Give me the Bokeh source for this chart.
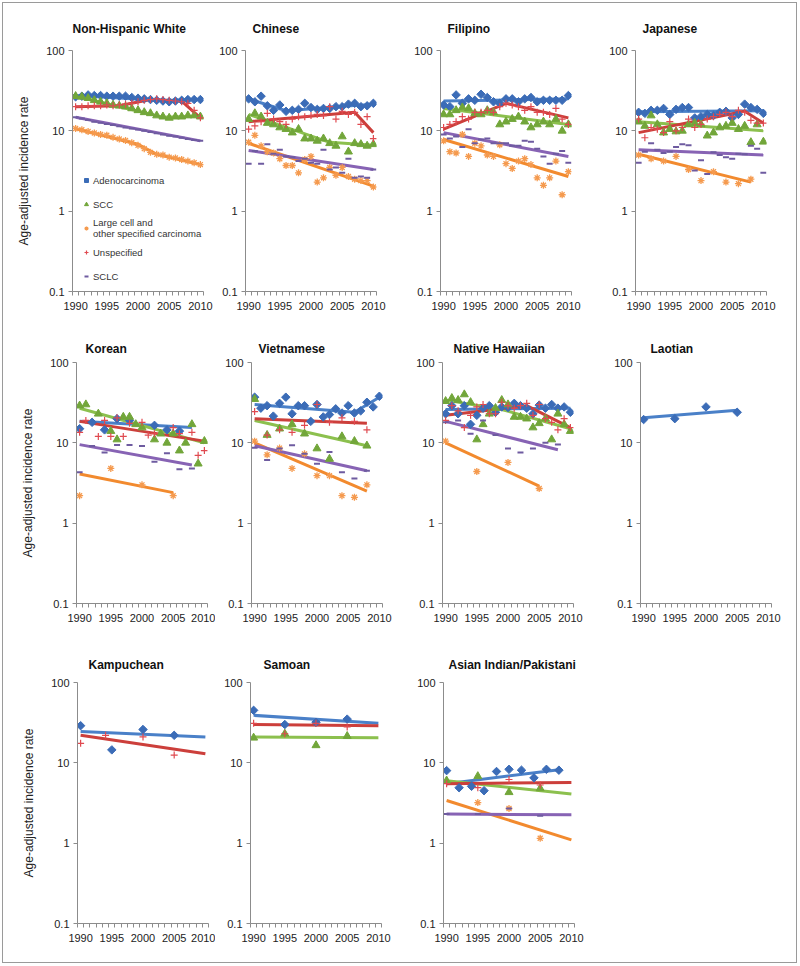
import math
from bokeh.plotting import figure
from bokeh.layouts import column, row
from bokeh.models import Legend, LegendItem, FixedTicker, CustomJSTickFormatter
from bokeh.embed import file_html
from bokeh.resources import INLINE

# ---------------- data ----------------
YEARS = [1990, 1991, 1992, 1993, 1994, 1995, 1996, 1997, 1998, 1999, 2000,
         2001, 2002, 2003, 2004, 2005, 2006, 2007, 2008, 2009, 2010]
EVEN = [1990, 1992, 1994, 1996, 1998, 2000, 2002, 2004, 2006, 2008]
FIVE = [1990, 1995, 2000, 2005]
TICK_YEARS = [1990, 1995, 2000, 2005, 2010]
Y_TICKS = [0.1, 1, 10, 100]

SERIES_LABELS = ["Adenocarcinoma", "SCC", "Large cell and\nother specified carcinoma",
                 "Unspecified", "SCLC"]

# Non-Hispanic White
nhw_adeno = [26.5, 27, 28, 27.5, 27.5, 27, 27, 27, 27, 26, 25.5, 25, 24.5, 24, 23.5, 23, 23.5, 24, 24.5, 24.5, 24.5]
nhw_scc = [27, 26.5, 25.5, 24, 23, 22, 21, 20.5, 20, 19, 18, 17, 16.5, 15.5, 15, 14.5, 15, 15, 15.5, 15.5, 15]
nhw_large = [10.7, 10.3, 9.8, 9.4, 9.0, 8.8, 8.3, 7.9, 7.6, 7.1, 6.6, 6.0, 5.4, 5.1, 5.0, 4.7, 4.6, 4.4, 4.2, 4.0, 3.8]
nhw_unspec = [20, 20, 20.5, 20.5, 20.5, 21, 20.5, 21, 21.5, 22, 23, 24, 24.5, 25, 24.5, 24, 23.5, 23, 22, 18, 14.5]
nhw_sclc = [14.8, 14.2, 13.6, 13.0, 12.6, 12.2, 11.8, 11.4, 11.0, 10.7, 10.4, 10.0, 9.7, 9.3, 9.0, 8.7, 8.5, 8.2, 7.9, 7.7, 7.5]
nhw_adeno_trend = ([1990, 2004, 2010], [27.5, 23.8, 24.5])
nhw_scc_trend = ([1990, 2004, 2010], [27, 14.8, 15.3])
nhw_large_trend = ([1990, 2000, 2003, 2010], [10.6, 6.8, 5.1, 3.8])
nhw_unspec_trend = ([1990, 1997, 2002, 2007, 2010], [20, 20.5, 24.5, 23.5, 14.5])
nhw_sclc_trend = ([1990, 2010], [14.8, 7.5])

# Chinese
chn_adeno = [25, 23, 27, 20.5, 18, 21, 17.5, 18, 18.5, 22, 19.5, 18.5, 19, 19, 20, 20, 21.5, 22, 20, 20.5, 22]
chn_scc = [14, 16.5, 15, 12.5, 12, 11, 10.5, 9.5, 10.5, 8, 8, 7.5, 8, 7, 6.5, 8.5, 5.5, 7, 6.8, 6.5, 6.8]
chn_large = [7.2, 8.8, 6.5, 5.5, 5.3, 4.5, 3.7, 3.7, 3.0, 4.4, 4.8, 2.3, 2.6, 3.5, 2.8, 3.5, 2.7, 2.5, 2.4, 2.4, 2.0]
chn_unspec = [10.5, 11.5, 13, 16.5, 14, 13, 12, 14, 15, 15, 15.5, 16, 15.5, 20, 14, 17.5, 16, 17, 12, 15, 8]
chn_sclc = [3.9, 5.6, 3.9, 6.8, 5.2, 5.8, 4.8, 4.7, 4.2, 4.5, 4.0, 3.9, 5.8, 3.3, 3.5, 3.0, 4.5, 2.6, 2.7, 2.6, 3.3]
chn_adeno_trend = ([1990, 1996, 2010], [25, 17.8, 21.5])
chn_scc_trend = ([1990, 2003, 2010], [16, 7.2, 6.6])
chn_large_trend = ([1990, 2010], [7, 2.05])
chn_unspec_trend = ([1990, 2007, 2010], [13, 17, 9.5])
chn_sclc_trend = ([1990, 2010], [5.7, 3.3])

# Filipino
fil_adeno = [21, 20, 28, 22, 25, 24, 28.5, 26, 23, 22, 25, 25, 23, 25, 26, 23, 24, 24, 24, 24, 27.5]
fil_scc = [16, 16, 18, 19.5, 19, 16.5, 16, 18, 17, 12, 13, 14, 15, 13, 11, 12, 13, 12, 14, 10, 12]
fil_large = [7.5, 5.5, 5.3, 9, 4.8, 7, 6.5, 5, 4.8, 6.7, 3.9, 3.4, 4.2, 4.5, 3.8, 2.6, 2.1, 2.6, 4.2, 1.6, 3.1]
fil_unspec = [11, 12, 13, 15, 14, 17, 17, 18, 17, 20, 22, 21, 20, 18, 20, 17, 17, 16, 19, 14, 12]
fil_sclc = [9, 8, 8.5, 6.3, 10.5, 7, 7.8, 8, 7, 7, 7, 6.5, 6.5, 7.5, 7.3, 6, 4.8, 3.9, 5.2, 5.6, 4]
fil_adeno_trend = ([1990, 2010], [23.5, 25])
fil_scc_trend = ([1990, 2010], [19, 12])
fil_large_trend = ([1990, 2010], [7.8, 2.7])
fil_unspec_trend = ([1990, 2000, 2010], [10.5, 22, 14.5])
fil_sclc_trend = ([1990, 2010], [9.5, 4.8])

# Japanese
jpn_adeno = [17, 16.5, 18, 18, 19, 16, 18.5, 19.5, 19.5, 14.5, 15, 16, 15.5, 17, 17.5, 14.5, 16, 21.5, 19.5, 18.5, 16.5]
jpn_scc = [13, 11.5, 15.5, 12, 9.5, 10.5, 9.8, 10, 12, 12.5, 12, 8.7, 9.5, 11, 11.5, 12.5, 10.5, 11.5, 7.2, 12, 7.3]
jpn_large = [5.0, 4.5, 4.2, 4.8, 3.3, 2.4, 3.1, 2.3, 2.2, 2.5]
jpn_unspec = [14, 8.2, 11, 10.5, 9.5, 13, 10, 11, 14, 11, 12, 14, 15, 16, 17, 15, 18, 17, 13.5, 12.5, 12.5]
jpn_sclc = [4, 5.5, 7, 5.8, 5.3, 5.5, 6.3, 6.8, 6.6, 3.2, 4.3, 2.9, 5.4, 5, 4.7, 4.5, 5.2, 5.1, 6.5, 6, 3]
jpn_adeno_trend = ([1990, 2010], [17.3, 17.8])
jpn_scc_trend = ([1990, 2010], [13, 10])
jpn_large_trend = ([1990, 2008], [5.1, 2.3])
jpn_unspec_trend = ([1990, 2007, 2010], [9.5, 17.5, 12.5])
jpn_sclc_trend = ([1990, 2010], [5.8, 5.0])

# Korean
kor_adeno_years = [1990, 1992, 1994, 1996, 1998, 2002, 2004, 2006]
kor_adeno = [15, 18, 14.5, 20, 19, 16.5, 14.5, 14]
kor_scc_years = [1990, 1991, 1993, 1995, 1996, 1997, 1998, 1999, 2000, 2002, 2003, 2004, 2005, 2006, 2007, 2008, 2009, 2010]
kor_scc = [29, 30, 23, 14, 11, 21, 21, 17, 15.5, 11, 13, 10, 13, 8, 10, 17, 5.5, 10.5]
kor_large = [2.2, 4.8, 3.0, 2.2]
kor_unspec_years = [1990, 1991, 1993, 1994, 1995, 1996, 1997, 1998, 2000, 2001, 2002, 2005, 2006, 2008, 2009, 2010]
kor_unspec = [13.5, 19, 12, 19, 12, 20.5, 12, 17.5, 18, 12.5, 13, 15.5, 13, 13.5, 7, 8]
kor_sclc = [4.3, 9.1, 7.6, 9.4, 9.4, 9.1, 5.8, 7.4, 4.7, 4.8]
kor_adeno_trend = ([1990, 2008], [18.5, 15.5])
kor_scc_trend = ([1990, 2010], [27, 10])
kor_large_trend = ([1990, 2005], [4.1, 2.4])
kor_unspec_trend = ([1990, 2010], [18.5, 10.5])
kor_sclc_trend = ([1990, 2008], [9.5, 5.3])

# Vietnamese
vie_adeno = [37, 27, 29, 21.5, 31, 37, 23, 29, 29, 18.5, 30, 21, 22.5, 26.5, 23.5, 29, 23.5, 25, 32, 28, 38]
vie_scc = [35, 12.5, 15, 17, 13, 8.5, 6.3, 12, 10.5, 9.2]
vie_large = [10.5, 7.1, 8.6, 4.8, 7.3, 3.9, 3.9, 2.2, 2.1, 3.0]
vie_unspec = [24.5, 12.5, 14.5, 13.5, 16.5, 30, 18, 20.5, 18.5, 14.5]
vie_sclc = [8.7, 6.1, 8.5, 9.3, 7.3, 5.5, 7.7, 4.3, 3.6, 4.5]
vie_adeno_trend = ([1990, 2006, 2010], [30, 24, 37])
vie_scc_trend = ([1990, 2008], [19, 9.2])
vie_large_trend = ([1990, 2008], [10, 2.5])
vie_unspec_trend = ([1990, 2008], [20, 17.5])
vie_sclc_trend = ([1990, 2008], [9.2, 4.5])

# Native Hawaiian
nha_adeno = [23, 29, 23, 29, 17, 22, 27, 29, 24, 28, 27.5, 31, 29, 27, 23, 29.5, 27, 30, 27, 28, 24]
nha_scc = [33, 36, 34, 40, 32, 11, 17, 23, 27, 34, 30, 21, 21, 20, 15.5, 17.5, 20, 11, 23, 17, 14]
nha_large = [10.5, 4.4, 5.7, 2.7]
nha_unspec = [19, 29, 25, 15.5, 22, 28, 30, 23, 23, 32, 29, 27, 29, 31, 22, 30, 20, 18, 14.5, 20, 15.5]
nha_sclc = [18, 19, 13, 19, 12.5, 8.5, 7.6, 8.5, 10, 9.5]
nha_adeno_trend = ([1990, 2010], [26, 27])
nha_scc_trend = ([1990, 1999, 2010], [34, 26, 15])
nha_large_trend = ([1990, 2005], [10, 2.9])
nha_unspec_trend = ([1990, 2003, 2010], [22, 29, 15.5])
nha_sclc_trend = ([1990, 2008], [18.5, 8.2])

# Laotian
lao_adeno = [19.5, 20, 28, 24]
lao_adeno_trend = ([1990, 2005], [20.5, 25.5])

# Kampuchean
kam_adeno = [29, 14.5, 26, 22]
kam_unspec_years = [1990, 1994, 2000, 2005]
kam_unspec = [17.5, 22, 21, 12.5]
kam_adeno_trend = ([1990, 2010], [24.5, 21])
kam_unspec_trend = ([1990, 2010], [22, 13])

# Samoan
sam_adeno = [45, 30, 32, 35]
sam_scc = [20.5, 23, 16.5, 21.5]
sam_unspec = [31, 23, 31, 28]
sam_adeno_trend = ([1990, 2010], [39, 31])
sam_scc_trend = ([1990, 2010], [21, 20.5])
sam_unspec_trend = ([1990, 2010], [30, 29])

# Asian Indian/Pakistani
ai_adeno = [8, 4.9, 5.1, 4.5, 7.8, 8.3, 8.1, 6.5, 8.3, 8.1]
ai_scc = [6, 6.8, 4.3, 4.8]
ai_large_years = [1995, 2000, 2005]
ai_large = [3.2, 2.7, 1.15]
ai_unspec = [5.5, 4.9, 6.2, 5.3]
ai_sclc = [2.3, 2.3, 2.7, 2.2]
ai_adeno_trend = ([1990, 2008], [5.5, 8.2])
ai_scc_trend = ([1990, 2010], [6, 4.1])
ai_large_trend = ([1990, 2010], [3.4, 1.1])
ai_unspec_trend = ([1990, 2010], [5.5, 5.7])
ai_sclc_trend = ([1990, 2010], [2.3, 2.25])

PANELS = [
    ("Non-Hispanic White", {
        "adeno": (YEARS, nhw_adeno, nhw_adeno_trend), "scc": (YEARS, nhw_scc, nhw_scc_trend),
        "large": (YEARS, nhw_large, nhw_large_trend), "unspec": (YEARS, nhw_unspec, nhw_unspec_trend),
        "sclc": (YEARS, nhw_sclc, nhw_sclc_trend)}),
    ("Chinese", {
        "adeno": (YEARS, chn_adeno, chn_adeno_trend), "scc": (YEARS, chn_scc, chn_scc_trend),
        "large": (YEARS, chn_large, chn_large_trend), "unspec": (YEARS, chn_unspec, chn_unspec_trend),
        "sclc": (YEARS, chn_sclc, chn_sclc_trend)}),
    ("Filipino", {
        "adeno": (YEARS, fil_adeno, fil_adeno_trend), "scc": (YEARS, fil_scc, fil_scc_trend),
        "large": (YEARS, fil_large, fil_large_trend), "unspec": (YEARS, fil_unspec, fil_unspec_trend),
        "sclc": (YEARS, fil_sclc, fil_sclc_trend)}),
    ("Japanese", {
        "adeno": (YEARS, jpn_adeno, jpn_adeno_trend), "scc": (YEARS, jpn_scc, jpn_scc_trend),
        "large": (EVEN, jpn_large, jpn_large_trend), "unspec": (YEARS, jpn_unspec, jpn_unspec_trend),
        "sclc": (YEARS, jpn_sclc, jpn_sclc_trend)}),
    ("Korean", {
        "adeno": (kor_adeno_years, kor_adeno, kor_adeno_trend), "scc": (kor_scc_years, kor_scc, kor_scc_trend),
        "large": (FIVE, kor_large, kor_large_trend), "unspec": (kor_unspec_years, kor_unspec, kor_unspec_trend),
        "sclc": (EVEN, kor_sclc, kor_sclc_trend)}),
    ("Vietnamese", {
        "adeno": (YEARS, vie_adeno, vie_adeno_trend), "scc": (EVEN, vie_scc, vie_scc_trend),
        "large": (EVEN, vie_large, vie_large_trend), "unspec": (EVEN, vie_unspec, vie_unspec_trend),
        "sclc": (EVEN, vie_sclc, vie_sclc_trend)}),
    ("Native Hawaiian", {
        "adeno": (YEARS, nha_adeno, nha_adeno_trend), "scc": (YEARS, nha_scc, nha_scc_trend),
        "large": (FIVE, nha_large, nha_large_trend), "unspec": (YEARS, nha_unspec, nha_unspec_trend),
        "sclc": (EVEN, nha_sclc, nha_sclc_trend)}),
    ("Laotian", {"adeno": (FIVE, lao_adeno, lao_adeno_trend)}),
    ("Kampuchean", {"adeno": (FIVE, kam_adeno, kam_adeno_trend),
                    "unspec": (kam_unspec_years, kam_unspec, kam_unspec_trend)}),
    ("Samoan", {"adeno": (FIVE, sam_adeno, sam_adeno_trend), "scc": (FIVE, sam_scc, sam_scc_trend),
                "unspec": (FIVE, sam_unspec, sam_unspec_trend)}),
    ("Asian Indian/Pakistani", {
        "adeno": (EVEN, ai_adeno, ai_adeno_trend), "scc": (FIVE, ai_scc, ai_scc_trend),
        "large": (ai_large_years, ai_large, ai_large_trend), "unspec": (FIVE, ai_unspec, ai_unspec_trend),
        "sclc": (FIVE, ai_sclc, ai_sclc_trend)}),
]

# ---------------- style / layout ----------------
FONT = "Liberation Sans"
ORDER = ["adeno", "scc", "large", "unspec", "sclc"]
STYLE = {
    "adeno": dict(marker="square", size=6, angle=math.pi / 4, color="#3B6CB7", line="#4A80C8", lw=1, filled=True),
    "scc": dict(marker="triangle", size=8, angle=0, color="#72A63A", line="#8CC04E", lw=1, filled=True),
    "large": dict(marker="asterisk", size=7, angle=0, color="#F59A4E", line="#F28A2E", lw=1.3, filled=False),
    "unspec": dict(marker="cross", size=7, angle=0, color="#E04A50", line="#CC3F3B", lw=1.2, filled=False),
    "sclc": dict(marker="dash", size=6, angle=0, color="#6E5BA0", line="#8763B4", lw=2, filled=False),
}
# per-row (left, right) borders of each panel, in px
BORDERS = [
    [(72, 12), (30, 34), (30, 34), (30, 33)],
    [(76, 8), (36, 28), (32, 32), (35, 28)],
    [(77, 7), (35, 29), (33, 31)],
]
FRAME_W = 131
FRAME_H = 241
ROW_TOP = [50, 42, 42]
ROW_BOTTOM = [29, 37, 42]
ROW_STANDOFF = [29, 13, 21]
TITLE_OFFSET = [0, 7, 7, 7, 9, 7, 11, 10, 11, 13, 5]
AXIS_COLOR = "#8c8c8c"
TEXT_COLOR = "#222222"


def make_panel(i, title, data):
    r, c = divmod(i, 4)
    bl, br = BORDERS[r][c]
    p = figure(y_axis_type="log", x_range=(1989.5, 2010.5), y_range=(0.1, 100),
               frame_width=FRAME_W, frame_height=FRAME_H,
               min_border_left=bl, min_border_right=br,
               min_border_top=ROW_TOP[r], min_border_bottom=ROW_BOTTOM[r],
               output_backend="svg", toolbar_location=None)
    p.border_fill_color = None
    p.background_fill_color = "white"
    p.title.text = title
    p.title.text_font = FONT
    p.title.text_font_size = "12px"
    p.title.text_font_style = "bold"
    p.title.text_color = "#111111"
    p.title.align = "left"
    p.title.offset = TITLE_OFFSET[i]
    p.title.standoff = ROW_STANDOFF[r]
    p.xgrid.visible = False
    p.ygrid.visible = False
    p.outline_line_color = None

    xa = p.xaxis[0]
    xa.ticker = FixedTicker(ticks=TICK_YEARS, minor_ticks=[y - 0.5 for y in YEARS] + [2010.5])
    xa.major_tick_out = 0
    xa.major_tick_in = 0
    xa.minor_tick_out = 4
    xa.minor_tick_in = 0
    xa.minor_tick_line_color = AXIS_COLOR
    xa.axis_line_color = AXIS_COLOR
    xa.major_label_text_font = FONT
    xa.major_label_text_font_size = "11px"
    xa.major_label_text_color = TEXT_COLOR
    xa.major_label_standoff = 6

    ya = p.yaxis[0]
    ya.ticker = FixedTicker(ticks=Y_TICKS)
    ya.formatter = CustomJSTickFormatter(code="return tick < 1 ? tick.toFixed(1) : tick.toFixed(0);")
    ya.major_tick_out = 4
    ya.major_tick_in = 0
    ya.minor_tick_out = 0
    ya.minor_tick_in = 0
    ya.major_tick_line_color = AXIS_COLOR
    ya.axis_line_color = AXIS_COLOR
    ya.major_label_text_font = FONT
    ya.major_label_text_font_size = "11px"
    ya.major_label_text_color = TEXT_COLOR
    ya.major_label_standoff = 4
    if c == 0:
        ya.axis_label = "Age-adjusted incidence rate"
        ya.axis_label_text_font = FONT
        ya.axis_label_text_font_size = "12px"
        ya.axis_label_text_font_style = "normal"
        ya.axis_label_text_color = TEXT_COLOR
        ya.axis_label_standoff = 12

    renderers = {}
    for key in ORDER:
        if key not in data:
            continue
        _, _, (tx, ty) = data[key]
        p.line(tx, ty, line_color=STYLE[key]["line"], line_width=3)
    for key in ORDER:
        if key not in data:
            continue
        xs, ys, _ = data[key]
        st = STYLE[key]
        renderers[key] = p.scatter(xs, ys, marker=st["marker"], size=st["size"], angle=st["angle"],
                                   line_color=st["color"], line_width=st["lw"],
                                   fill_color=st["color"] if st["filled"] else None)

    if i == 0:
        items = [LegendItem(label=SERIES_LABELS[k], renderers=[renderers[key]])
                 for k, key in enumerate(ORDER)]
        legend = Legend(items=items, location=(9, 3), background_fill_alpha=0,
                        border_line_alpha=0, padding=0, margin=0, spacing=0,
                        label_text_font=FONT, label_text_font_size="9.5px",
                        label_text_color="#333333", label_height=24,
                        glyph_width=10, glyph_height=24, label_standoff=2)
        p.add_layout(legend)
    return p


figs = [make_panel(i, t, d) for i, (t, d) in enumerate(PANELS)]
layout = column(
    row(*figs[0:4]),
    row(*figs[4:8]),
    row(*figs[8:11]),
    styles={"outline": "1px solid #9a9a9a", "outline-offset": "-3px"},
)

with open("out.html", "w") as f:
    f.write(file_html(layout, INLINE))
